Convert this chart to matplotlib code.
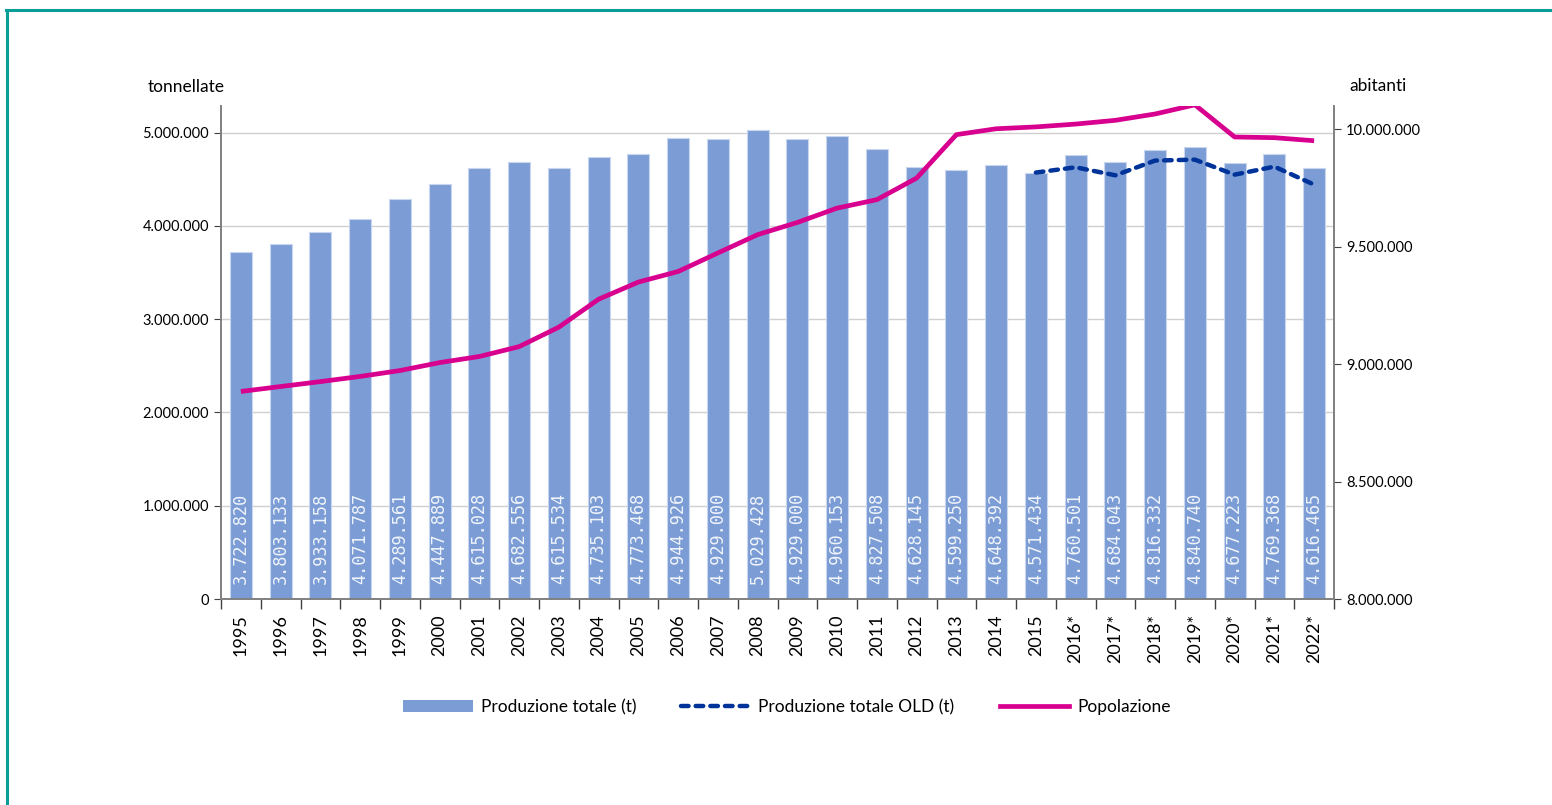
import numpy as np
import matplotlib
matplotlib.use("Agg")
import matplotlib.pyplot as plt
from matplotlib.patches import Patch
from matplotlib.lines import Line2D
from matplotlib.ticker import FuncFormatter, MultipleLocator

plt.rcParams['font.family'] = ['Lato', 'DejaVu Sans']

# data
anni = ['1995', '1996', '1997', '1998', '1999', '2000', '2001', '2002', '2003',
        '2004', '2005', '2006', '2007', '2008', '2009', '2010', '2011', '2012',
        '2013', '2014', '2015', '2016*', '2017*', '2018*', '2019*', '2020*',
        '2021*', '2022*']
produzione = [3722820, 3803133, 3933158, 4071787, 4289561, 4447889, 4615028,
              4682556, 4615534, 4735103, 4773468, 4944926, 4929000, 5029428,
              4929000, 4960153, 4827508, 4628145, 4599250, 4648392, 4571434,
              4760501, 4684043, 4816332, 4840740, 4677223, 4769368, 4616465]
# old series only from 2015 on
anni_old = ['2015', '2016*', '2017*', '2018*', '2019*', '2020*', '2021*', '2022*']
produzione_old = [4571434, 4628000, 4542000, 4700000, 4710000, 4549000,
                  4635000, 4442000]
popolazione = [8884000, 8905000, 8926000, 8948000, 8973000, 9007000, 9033000,
               9075000, 9158000, 9277000, 9350000, 9395000, 9474000, 9552000,
               9604000, 9665000, 9701000, 9793000, 9978000, 10003000, 10011000,
               10023000, 10039000, 10066000, 10105000, 9968000, 9965000, 9952000]

bar_col = '#7b9cd4'
old_col = '#003399'
pop_col = '#d8008f'

def punti(v, pos=None):
    return f'{int(round(v)):,}'.replace(',', '.')

fig = plt.figure(figsize=(15.52, 8.05), dpi=100)
ax = fig.add_axes([221/1552, 1-599/805, (1334-221)/1552, (599-106)/805])
ax2 = ax.twinx()

x = np.arange(len(anni))
ax.bar(x, produzione, width=0.55, color=bar_col, edgecolor='#c9d6ef',
       linewidth=0.8, zorder=2)
for xi, v in zip(x, produzione):
    ax.text(xi, 160000, punti(v), rotation=90, ha='center', va='bottom',
            fontsize=12.2, family='DejaVu Sans Mono', color='#f0f4fb', zorder=3)

x_old = [anni.index(a) for a in anni_old]
ax.plot(x_old, produzione_old, color=old_col, lw=3.2, dashes=(1.7, 1.6),
        dash_capstyle='round', zorder=4)
ax2.plot(x, popolazione, color=pop_col, lw=3.4, solid_capstyle='butt',
         solid_joinstyle='round', zorder=5)

ax.set_xlim(-0.5, len(anni) - 0.5)
ax.set_ylim(0, 5285000)
ax2.set_ylim(8000000, 10100000)

ax.yaxis.set_major_locator(MultipleLocator(1000000))
ax2.yaxis.set_major_locator(MultipleLocator(500000))
ax.yaxis.set_major_formatter(FuncFormatter(punti))
ax2.yaxis.set_major_formatter(FuncFormatter(punti))
ax.grid(axis='y', color='#d0d0d0', lw=1, zorder=0)
ax.set_axisbelow(True)

ax.set_xticks(x)
ax.set_xticklabels(anni, rotation=90, fontsize=13)
ax.set_xticks(np.arange(-0.5, len(anni)), minor=True)
ax.tick_params(axis='x', which='major', length=0, pad=11)
ax.tick_params(axis='x', which='minor', length=7, width=1, color='#404040')
ax.tick_params(axis='y', labelsize=10.5, length=5, color='#404040')
ax2.tick_params(axis='y', labelsize=10.5, length=5, color='#404040')

for a in (ax, ax2):
    a.spines['top'].set_visible(False)
    for s in ('left', 'right', 'bottom'):
        a.spines[s].set_color('#808080')
        a.spines[s].set_linewidth(1.2)

fig.text(186/1552, 1-87/805, 'tonnellate', ha='center', va='center', fontsize=12.5)
fig.text(1378/1552, 1-86/805, 'abitanti', ha='center', va='center', fontsize=12.5)

handles = [Patch(facecolor=bar_col, edgecolor='none'),
           Line2D([], [], color=old_col, lw=3.2, dashes=(1.7, 1.6),
                  dash_capstyle='round'),
           Line2D([], [], color=pop_col, lw=3.4)]
fig.legend(handles, ['Produzione totale (t)', 'Produzione totale OLD (t)', 'Popolazione'],
           loc='center', bbox_to_anchor=(0.507, 1-707/805), ncol=3, frameon=False,
           fontsize=12.5, handlelength=4.0, handleheight=0.7, handletextpad=0.45,
           columnspacing=2.6)

# teal frame around the chart area
fig.add_artist(Line2D([6.5/1552, 6.5/1552], [0, 1-10/805], color='#0a9e9a', lw=2.2))
fig.add_artist(Line2D([6/1552, 1], [1-10.5/805, 1-10.5/805], color='#0a9e9a', lw=2.2))

fig.savefig('out.png', dpi=100)
